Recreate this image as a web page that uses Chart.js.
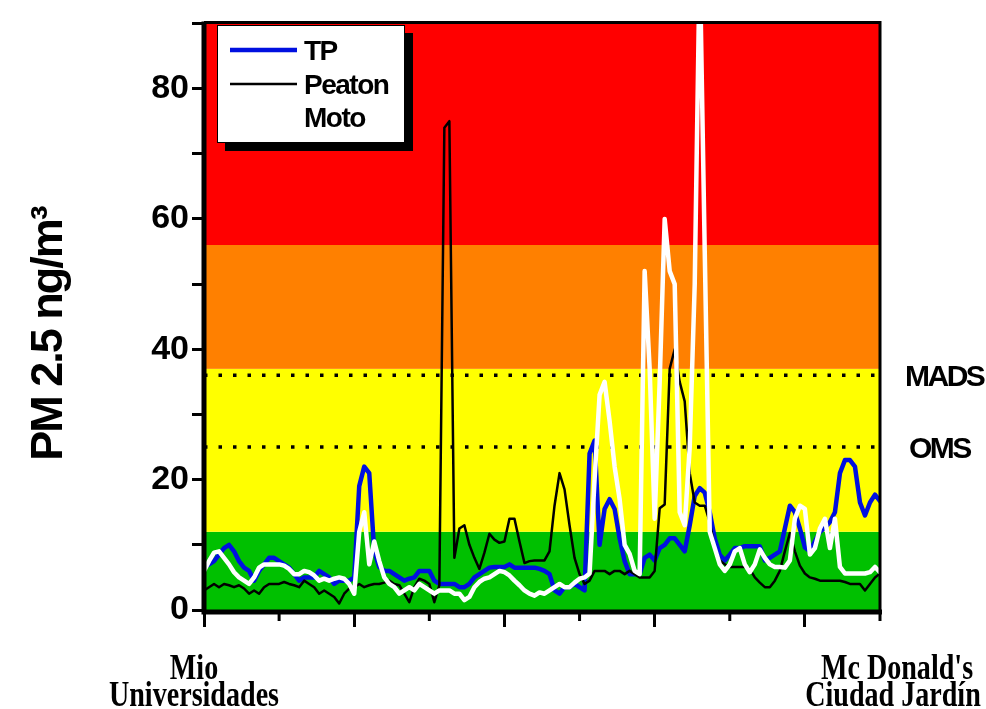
<!DOCTYPE html>
<html>
<head>
<meta charset="utf-8">
<script src="https://cdn.jsdelivr.net/npm/chart.js@4.4.1/dist/chart.umd.min.js"></script>
<style>
html, body { margin: 0; padding: 0; background: #fff; }
</style>
</head>
<body>
<canvas id="myChart" width="986" height="709"></canvas>
<script>
// PM2.5 along the route, one reading per step
var seriesNames = ["TP", "Peaton", "Moto"];
var seriesColors = ["#0010e0", "#000000", "#ffffff"];

var TP = [
    6.5, 7, 7.5, 8.5, 9.5, 10, 9, 7.5, 6.5, 6,
    4.5, 6, 7, 8, 8, 7.5, 7, 6.5, 5.5, 4.5,
    5, 5, 5, 6, 5.5, 5, 4, 4.5, 4.5, 4.5,
    5, 19, 22, 21, 9, 6.6, 6, 6, 5.5, 5,
    4.5, 4.8, 5, 6, 6, 6, 4.5, 4, 4, 4,
    4, 3.5, 3.5, 4, 5, 5.5, 6, 6.5, 6.6, 6.6,
    6.6, 7, 6.5, 6.5, 6.5, 6.5, 6.5, 6.3, 6, 5.5,
    3, 2.5, 3.5, 3.5, 4, 3.5, 3, 24, 26, 10,
    15.5, 17, 15.5, 11, 7.5, 5.5, 5.5, 5.5, 8, 8.5,
    7.6, 9.5, 10, 11, 11, 10, 9, 13, 17.5, 18.7,
    18, 15, 11, 8.5, 7.6, 8.5, 9.5, 9.5, 9.8, 9.8,
    9.8, 9.8, 7.6, 8, 8.5, 9, 12.5, 16, 15, 12.5,
    9.6, 9, 10.5, 12, 12.6, 13.5, 15, 21, 23, 23,
    22, 16.5, 14.5, 16.5, 17.7, 16.7
];
var Peaton = [
    3, 3.5, 4, 3.5, 4, 3.8, 3.5, 3.8, 3.3, 2.5,
    3, 2.5, 3.5, 4, 4, 4, 4.3, 4, 3.8, 3.5,
    4.5, 4, 3.5, 2.5, 3, 2.5, 2, 1, 2.5, 3.3,
    3.5, 4, 3.5, 3.8, 4, 4, 4.2, 4.5, 4, 3.8,
    2.5, 1.2, 3.5, 4.8, 4.5, 4, 1.2, 3.8, 74, 75,
    8, 12.5, 13, 10, 8, 6.3, 8.8, 11.7, 10.8, 10.3,
    10.5, 14, 14, 10.5, 7.2, 7.5, 7.6, 7.6, 7.6, 9,
    16, 21, 18.5, 13, 8, 5.5, 4, 4.5, 6, 6,
    6, 5.5, 6, 6, 5.5, 6, 5.5, 5, 5, 5,
    6, 15.6, 16.2, 37, 40, 35, 32, 21, 16.5, 16,
    16, 13.5, 9.5, 7.6, 7, 6.6, 6.6, 6.6, 6.6, 6.3,
    5, 4.2, 3.5, 3.5, 4.5, 6, 9, 11.8, 9, 6.8,
    5.6, 5, 4.8, 4.5, 4.5, 4.5, 4.5, 4.5, 4.3, 4,
    4, 4, 3, 4, 5, 5.6
];
var Moto = [
    6, 7.5, 8.8, 9, 8, 7, 5.8, 5, 4.5, 4,
    5, 6.5, 7, 7, 7, 7, 6.8, 6.3, 5.5, 5.5,
    6, 5.8, 5.3, 4.5, 4.8, 4.5, 4.8, 5, 4.8, 4,
    2.5, 12, 15, 7, 10.5, 7.5, 5, 4, 3.5, 2.5,
    3, 3.5, 3, 4, 3.5, 3, 2.5, 3, 3, 3,
    2.5, 2.5, 1.5, 2, 3.5, 4.3, 4.8, 5, 5.5, 6,
    5.8, 5.3, 4.5, 3.8, 3, 2.5, 2.2, 2.7, 2.5, 3,
    3.5, 4, 3.5, 3.5, 4.2, 4.8, 5, 5.6, 20, 33,
    35, 29, 22, 17, 10, 8.6, 6, 5.5, 52, 37,
    14, 35, 60, 52, 50, 15, 13, 25, 50, 100,
    55, 12, 9.5, 7, 6, 7, 9, 9.5, 7, 5.8,
    7, 9.3, 8, 7, 6.6, 6.6, 6.5, 7.6, 14, 16,
    15.5, 8.5, 9.5, 12.5, 14, 9.5, 14, 6.6, 5.6, 5.6,
    5.6, 5.6, 5.6, 5.8, 6.6, 5.8
];

var yMax = 90;
var yStep = 10;
var yLabelStep = 20;
var xStep = 15;

// air quality bands (green / yellow / orange / red)
var bandLimits = [0, 12, 37, 56, 90];
var bandColors = ["#00c000", "#ffff00", "#ff8000", "#ff0000"];

var normNames = ["MADS", "OMS"];
var normValues = [36, 25];

var startLabel = ["Mio", "Universidades"];
var endLabel = ["Mc Donald's", "Ciudad Jard\u00edn"];
var yTitle = "PM 2.5 ng/m\u00b3";

var lastX = TP.length - 1;

function toPoints(arr) {
    return arr.map(function (v, i) { return { x: i, y: v }; });
}

function normLine(v) {
    return {
        data: [{ x: 0, y: v }, { x: lastX, y: v }],
        borderColor: "#000",
        borderWidth: 3.5,
        borderDash: [3.5, 11],
        borderCapStyle: "butt",
        pointRadius: 0,
        order: 10
    };
}

function text(ctx, str, x, y, font, align, sx, spacing) {
    ctx.save();
    ctx.translate(x, y);
    ctx.scale(sx, 1);
    ctx.font = font;
    ctx.textAlign = align;
    ctx.textBaseline = "alphabetic";
    ctx.letterSpacing = spacing || "0px";
    ctx.fillStyle = "#000";
    ctx.fillText(str, 0, 0);
    ctx.restore();
}

var overlay = {
    id: "overlay",
    beforeDatasetsDraw: function (chart) {
        var ctx = chart.ctx, a = chart.chartArea, y = chart.scales.y;
        ctx.save();
        for (var i = 0; i < bandColors.length; i++) {
            var top = y.getPixelForValue(bandLimits[i + 1]);
            var bottom = y.getPixelForValue(bandLimits[i]);
            ctx.fillStyle = bandColors[i];
            ctx.fillRect(a.left, top, a.right - a.left, bottom - top);
        }
        ctx.restore();
    },
    afterDraw: function (chart) {
        var ctx = chart.ctx, a = chart.chartArea, x = chart.scales.x, y = chart.scales.y;
        ctx.save();
        // short minor ticks on the x axis
        ctx.strokeStyle = "#000";
        ctx.lineWidth = 3;
        x.ticks.forEach(function (t, i) {
            if (i % 2 === 1) {
                var px = x.getPixelForValue(t.value);
                ctx.beginPath();
                ctx.moveTo(px, a.bottom);
                ctx.lineTo(px, a.bottom + 11);
                ctx.stroke();
            }
        });
        // frame
        ctx.beginPath();
        ctx.moveTo(a.left, a.top - 1);
        ctx.lineTo(a.right, a.top - 1);
        ctx.lineTo(a.right, a.bottom);
        ctx.stroke();
        ctx.lineWidth = 5;
        ctx.beginPath();
        ctx.moveTo(a.left, a.top - 2);
        ctx.lineTo(a.left, a.bottom + 2);
        ctx.lineTo(a.right + 2, a.bottom + 2);
        ctx.stroke();

        // legend box with shadow
        var lx = 217, ly = 25, lw = 188, lh = 118;
        ctx.fillStyle = "#000";
        ctx.fillRect(lx + 8, ly + 8, lw, lh);
        ctx.fillStyle = "#fff";
        ctx.fillRect(lx, ly, lw, lh);
        ctx.lineWidth = 1;
        ctx.strokeRect(lx + 0.5, ly + 0.5, lw - 1, lh - 1);
        var rows = [50, 84, 117];
        var widths = [4.5, 2.5, 4.5];
        for (var i = 0; i < seriesNames.length; i++) {
            ctx.strokeStyle = seriesColors[i];
            ctx.lineWidth = widths[i];
            ctx.beginPath();
            ctx.moveTo(230, rows[i]);
            ctx.lineTo(297, rows[i]);
            ctx.stroke();
            text(ctx, seriesNames[i], 304, rows[i] + 10, "bold 28px 'Liberation Sans'", "left", 1, "-1.5px");
        }
        ctx.restore();

        // norm labels on the right
        for (var j = 0; j < normNames.length; j++) {
            var py = y.getPixelForValue(normValues[j]);
            text(ctx, normNames[j], 905 + j * 4, py + 11, "bold 30px 'Liberation Sans'", "left", 1, "-2.5px");
        }

        // route ends under the x axis
        var serif = "bold 36px 'Liberation Serif'";
        text(ctx, startLabel[0], 194, 679, serif, "center", 0.78);
        text(ctx, startLabel[1], 194, 706, serif, "center", 0.78);
        text(ctx, endLabel[0], 897, 679, serif, "center", 0.78);
        text(ctx, endLabel[1], 893, 706, serif, "center", 0.78);

        // y title
        ctx.save();
        ctx.translate(62, 334);
        ctx.rotate(-Math.PI / 2);
        ctx.font = "bold 45px 'Liberation Sans'";
        ctx.letterSpacing = "-2px";
        ctx.textAlign = "center";
        ctx.fillStyle = "#000";
        ctx.fillText(yTitle, 0, 0);
        ctx.restore();
    }
};

var ctx = document.getElementById("myChart");
var myChart = new Chart(ctx, {
    type: "line",
    data: {
        datasets: [
            {
                label: seriesNames[0],
                data: toPoints(TP),
                borderColor: seriesColors[0],
                borderWidth: 4.5,
                order: 3
            },
            {
                label: seriesNames[1],
                data: toPoints(Peaton),
                borderColor: seriesColors[1],
                borderWidth: 2.5,
                order: 2
            },
            {
                label: seriesNames[2],
                data: toPoints(Moto),
                borderColor: seriesColors[2],
                borderWidth: 4.5,
                order: 1
            },
            normLine(normValues[0]),
            normLine(normValues[1])
        ]
    },
    options: {
        responsive: false,
        animation: false,
        layout: { padding: { left: 0, right: 106, top: 13, bottom: 0 } },
        elements: {
            line: { tension: 0, borderJoinStyle: "round", borderCapStyle: "round" },
            point: { radius: 0 }
        },
        plugins: {
            legend: { display: false },
            tooltip: { enabled: false }
        },
        scales: {
            x: {
                type: "linear",
                min: 0,
                max: lastX,
                afterFit: function (s) { s.height = 99; },
                border: { display: false },
                grid: {
                    drawOnChartArea: false,
                    tickLength: 17,
                    tickWidth: 3,
                    tickColor: function (c) { return c.index % 2 === 0 ? "#000" : "rgba(0,0,0,0)"; }
                },
                ticks: { stepSize: xStep, callback: function () { return ""; } }
            },
            y: {
                min: 0,
                max: yMax,
                afterFit: function (s) { s.width = 204; },
                border: { display: false },
                grid: { drawOnChartArea: false, tickLength: 12, tickWidth: 3, tickColor: "#000" },
                ticks: {
                    stepSize: yStep,
                    padding: 3,
                    color: "#000",
                    font: { family: "Liberation Sans", size: 34, weight: "bold" },
                    callback: function (v) { return v % yLabelStep === 0 ? v : ""; }
                }
            }
        }
    },
    plugins: [overlay]
});
</script>
</body>
</html>
